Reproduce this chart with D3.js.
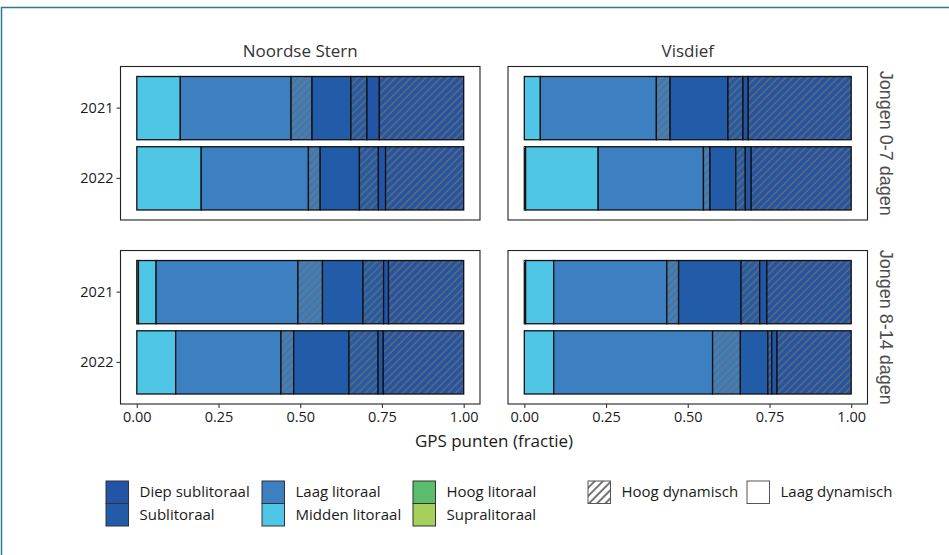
<!DOCTYPE html>
<html>
<head>
<meta charset="utf-8">
<script src="https://cdn.jsdelivr.net/npm/d3@7"></script>
<style>
  html, body { margin: 0; padding: 0; background: #ffffff; }
  svg { display: block; }
</style>
</head>
<body>
<svg id="chart" width="949" height="555"></svg>
<script>
// Facets
const species = ["Noordse Stern", "Visdief"];
const ageGroups = ["Jongen 0-7 dagen", "Jongen 8-14 dagen"];
const years = ["2021", "2022"];

// Stack order of the segments (habitat + dynamics)
const segmentHabitat = ["Hoog litoraal", "Midden litoraal", "Laag litoraal", "Laag litoraal",
                        "Sublitoraal", "Sublitoraal", "Diep sublitoraal", "Diep sublitoraal"];
const segmentDynamic = ["Laag dynamisch", "Laag dynamisch", "Laag dynamisch", "Hoog dynamisch",
                        "Laag dynamisch", "Hoog dynamisch", "Laag dynamisch", "Hoog dynamisch"];

// Fraction of GPS points per segment (same order as above)
const noordseStern07_2021 = [0.000, 0.133, 0.339, 0.064, 0.119, 0.049, 0.038, 0.258];
const noordseStern07_2022 = [0.000, 0.197, 0.328, 0.036, 0.120, 0.058, 0.022, 0.239];
const visdief07_2021      = [0.000, 0.049, 0.355, 0.042, 0.177, 0.046, 0.016, 0.315];
const visdief07_2022      = [0.004, 0.222, 0.322, 0.020, 0.079, 0.029, 0.018, 0.306];
const noordseStern814_2021 = [0.005, 0.054, 0.434, 0.075, 0.124, 0.063, 0.015, 0.230];
const noordseStern814_2022 = [0.000, 0.119, 0.322, 0.039, 0.169, 0.089, 0.016, 0.246];
const visdief814_2021      = [0.004, 0.086, 0.346, 0.036, 0.191, 0.057, 0.022, 0.258];
const visdief814_2022      = [0.000, 0.090, 0.486, 0.085, 0.084, 0.012, 0.016, 0.227];

// Legend entries
const habitatLegend = ["Diep sublitoraal", "Sublitoraal", "Laag litoraal", "Midden litoraal",
                       "Hoog litoraal", "Supralitoraal"];
const dynamicLegend = ["Hoog dynamisch", "Laag dynamisch"];
const xTicks = [0, 0.25, 0.5, 0.75, 1];

const rowsData = [
  { species: "Noordse Stern", age: "Jongen 0-7 dagen",  year: "2021", values: noordseStern07_2021 },
  { species: "Noordse Stern", age: "Jongen 0-7 dagen",  year: "2022", values: noordseStern07_2022 },
  { species: "Visdief",       age: "Jongen 0-7 dagen",  year: "2021", values: visdief07_2021 },
  { species: "Visdief",       age: "Jongen 0-7 dagen",  year: "2022", values: visdief07_2022 },
  { species: "Noordse Stern", age: "Jongen 8-14 dagen", year: "2021", values: noordseStern814_2021 },
  { species: "Noordse Stern", age: "Jongen 8-14 dagen", year: "2022", values: noordseStern814_2022 },
  { species: "Visdief",       age: "Jongen 8-14 dagen", year: "2021", values: visdief814_2021 },
  { species: "Visdief",       age: "Jongen 8-14 dagen", year: "2022", values: visdief814_2022 }
];

const habitatColor = d3.scaleOrdinal()
  .domain(["Diep sublitoraal", "Sublitoraal", "Laag litoraal", "Midden litoraal", "Hoog litoraal", "Supralitoraal"])
  .range(["#2355a6", "#225ca9", "#3c80c1", "#4fc6e5", "#5bbd6b", "#a6cf5c"]);

const keys = segmentHabitat.map((h, i) => i);
const table = rowsData.map(r => {
  const o = { species: r.species, age: r.age, year: r.year };
  r.values.forEach((v, i) => { o[i] = v; });
  return o;
});
const stacked = d3.stack().keys(keys)(table);

const svg = d3.select("#chart");
const FONT = "'Open Sans', 'Noto Sans', sans-serif";

// Page frame
svg.append("path")
  .attr("d", "M1.5,555 V7.5 H949")
  .attr("fill", "none")
  .attr("stroke", "#2b7d8b")
  .attr("stroke-width", 1.5);

// Hatch patterns: one per habitat colour, plus a white one for the legend
const defs = svg.append("defs");
function addHatch(id, bg, lineColor, lineWidth, spacing) {
  const p = defs.append("pattern")
    .attr("id", id)
    .attr("patternUnits", "userSpaceOnUse")
    .attr("width", spacing).attr("height", spacing)
    .attr("patternTransform", "rotate(45)");
  p.append("rect").attr("width", spacing).attr("height", spacing).attr("fill", bg);
  p.append("line").attr("x1", 1).attr("y1", 0).attr("x2", 1).attr("y2", spacing)
    .attr("stroke", lineColor).attr("stroke-width", lineWidth);
}
habitatColor.domain().forEach((h, i) => addHatch("hatch" + i, habitatColor(h), "#6a6a6c", 1.4, 5.3));
addHatch("hatchLegend", "#ffffff", "#2e2e2e", 1.3, 5.8);

function fillFor(i) {
  const h = segmentHabitat[i];
  if (segmentDynamic[i] === "Hoog dynamisch") {
    return "url(#hatch" + habitatColor.domain().indexOf(h) + ")";
  }
  return habitatColor(h);
}

// Facet layout
const colScale = d3.scaleBand().domain(species).range([120.5, 867.5]).paddingInner(0.0723);
const rowScale = d3.scaleBand().domain(ageGroups).range([66.5, 404]).paddingInner(0.166);

species.forEach(sp => {
  ageGroups.forEach(ag => {
    const px = colScale(sp), py = rowScale(ag);
    const pw = colScale.bandwidth(), ph = rowScale.bandwidth();
    const expand = 16.3;
    const x = d3.scaleLinear().domain([0, 1]).range([px + expand, px + pw - expand]);
    const y = d3.scaleBand().domain(years).range([py + 10, py + ph - 10]).paddingInner(0.1);

    const g = svg.append("g");
    g.append("rect")
      .attr("x", px).attr("y", py).attr("width", pw).attr("height", ph)
      .attr("fill", "#ffffff").attr("stroke", "#222222").attr("stroke-width", 1.1);

    stacked.forEach((layer, i) => {
      g.selectAll(null)
        .data(layer.filter(d => d.data.species === sp && d.data.age === ag && d[1] - d[0] > 0))
        .join("rect")
        .attr("x", d => x(d[0]))
        .attr("y", d => y(d.data.year))
        .attr("width", d => x(d[1]) - x(d[0]))
        .attr("height", y.bandwidth())
        .attr("fill", fillFor(i))
        .attr("stroke", "#111111")
        .attr("stroke-width", 1.3);
    });

    // Y axis on the left column only
    if (sp === species[0]) {
      const ay = svg.append("g").attr("transform", `translate(${px},0)`)
        .call(d3.axisLeft(y).tickSize(4).tickPadding(3));
      ay.select(".domain").remove();
      ay.selectAll(".tick line").attr("stroke", "#333333").attr("stroke-width", 1.1);
      ay.selectAll(".tick text").attr("font-family", FONT).attr("font-size", 14.5).attr("fill", "#1a1a1a");
    }
    // X axis on the bottom row only
    if (ag === ageGroups[ageGroups.length - 1]) {
      const ax = svg.append("g").attr("transform", `translate(0,${py + ph})`)
        .call(d3.axisBottom(x).tickValues(xTicks).tickFormat(d3.format(".2f")).tickSize(4).tickPadding(4));
      ax.select(".domain").remove();
      ax.selectAll(".tick line").attr("stroke", "#333333").attr("stroke-width", 1.1);
      ax.selectAll(".tick text").attr("font-family", FONT).attr("font-size", 14.5).attr("fill", "#1a1a1a");
    }
    // Column strip labels
    if (ag === ageGroups[0]) {
      svg.append("text")
        .attr("x", px + pw / 2).attr("y", py - 10)
        .attr("text-anchor", "middle")
        .attr("font-family", FONT).attr("font-size", 17).attr("fill", "#333333")
        .text(sp);
    }
    // Row strip labels
    if (sp === species[species.length - 1]) {
      svg.append("text")
        .attr("transform", `translate(${px + pw + 12},${py + ph / 2}) rotate(90)`)
        .attr("text-anchor", "middle")
        .attr("font-family", "'Liberation Sans', Arial, sans-serif")
        .attr("font-size", 18).attr("fill", "#4d4d4d")
        .text(ag);
    }
  });
});

// X axis title
svg.append("text")
  .attr("x", (colScale(species[0]) + colScale(species[1]) + colScale.bandwidth()) / 2)
  .attr("y", 447)
  .attr("text-anchor", "middle")
  .attr("font-family", FONT).attr("font-size", 17).attr("fill", "#1a1a1a")
  .text("GPS punten (fractie)");

// Legend: habitat colours in three columns of two
const legendColX = [106, 262, 413];
const boxSize = 22.5;
const legendTop = 481;
habitatLegend.forEach((h, i) => {
  const col = Math.floor(i / 2), row = i % 2;
  const lx = legendColX[col], ly = legendTop + row * boxSize;
  svg.append("rect")
    .attr("x", lx).attr("y", ly).attr("width", boxSize).attr("height", boxSize)
    .attr("fill", habitatColor(h)).attr("stroke", "#333333").attr("stroke-width", 1);
  svg.append("text")
    .attr("x", lx + boxSize + 11).attr("y", ly + boxSize / 2 + 5)
    .attr("font-family", FONT).attr("font-size", 15).attr("fill", "#1a1a1a")
    .text(h);
});

// Legend: dynamics
const dynX = [588, 747];
dynamicLegend.forEach((d, i) => {
  svg.append("rect")
    .attr("x", dynX[i]).attr("y", legendTop).attr("width", boxSize).attr("height", boxSize)
    .attr("fill", d === "Hoog dynamisch" ? "url(#hatchLegend)" : "#ffffff")
    .attr("stroke", "#555555").attr("stroke-width", 1);
  svg.append("text")
    .attr("x", dynX[i] + boxSize + 11).attr("y", legendTop + boxSize / 2 + 5)
    .attr("font-family", FONT).attr("font-size", 15).attr("fill", "#1a1a1a")
    .text(d);
});
</script>
</body>
</html>
